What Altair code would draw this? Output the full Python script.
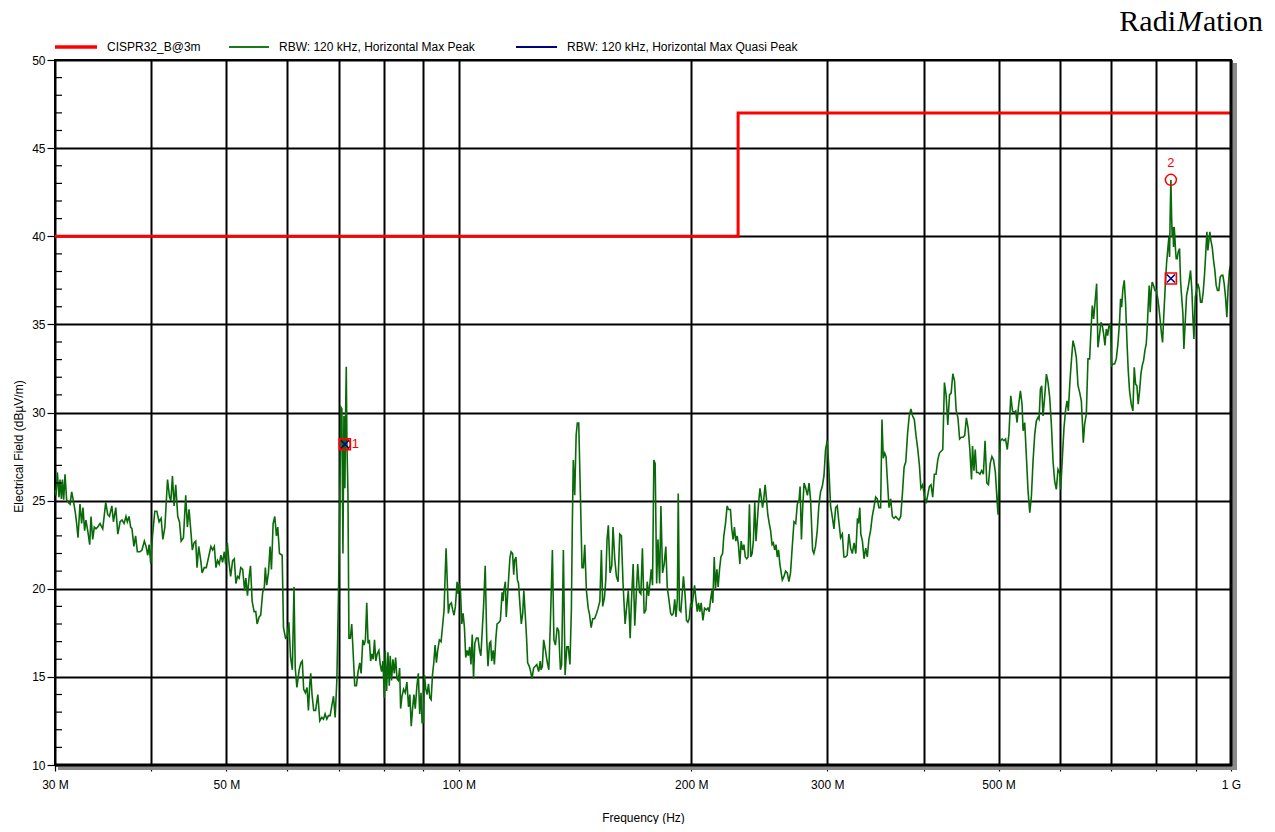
import altair as alt
import pandas as pd

# ---------------- data ----------------
LIMIT_NAME = "CISPR32_B@3m"
LIMIT_FREQ = [30, 230, 230, 1000]          # MHz
LIMIT_LEVEL = [40, 40, 47, 47]             # dBuV/m

# Max Peak trace (MHz, dBuV/m)
PEAK_30_62 = [
    (30.0, 25.6), (30.09, 25.3), (30.21, 26.6), (30.36, 25.2), (30.45, 26.2), (30.58, 25.1), (30.67, 26.2),
    (30.79, 25.05), (30.91, 26.5), (31.06, 25.05), (31.22, 24.9), (31.38, 24.8), (31.53, 25.5), (31.69, 25.0),
    (31.88, 24.3), (32.0, 23.7), (32.13, 22.9), (32.32, 24.8), (32.48, 23.7), (32.61, 24.6), (32.77, 23.3),
    (32.9, 23.9), (33.1, 23.2), (33.27, 22.5), (33.4, 24.1), (33.57, 22.8), (33.73, 23.5), (33.9, 23.4),
    (34.07, 23.5), (34.31, 23.7), (34.59, 23.4), (34.9, 24.9), (35.11, 24.2), (35.29, 24.1), (35.54, 24.7),
    (35.71, 23.8), (35.96, 24.6), (36.18, 23.1), (36.43, 23.8), (36.64, 23.9), (36.86, 23.7), (37.07, 24.1),
    (37.22, 23.8), (37.41, 24.1), (37.59, 23.5), (37.74, 23.4), (37.96, 22.4), (38.15, 23.0), (38.35, 22.1),
    (38.65, 22.1), (38.88, 22.2), (39.16, 22.7), (39.36, 22.4), (39.56, 21.9), (39.72, 22.5), (39.92, 21.4),
    (40.12, 23.0), (40.4, 24.4), (40.64, 24.4), (40.92, 23.8), (41.17, 24.0), (41.38, 22.8), (41.63, 23.5),
    (41.96, 26.2), (42.21, 25.2), (42.38, 25.0), (42.58, 26.4), (42.79, 24.7), (43.0, 25.9), (43.26, 24.1),
    (43.48, 23.8), (43.7, 22.7), (44.0, 22.9), (44.3, 25.3), (44.52, 23.5), (44.74, 24.5), (44.96, 23.4),
    (45.18, 22.2), (45.41, 22.6), (45.64, 22.7), (45.82, 21.2), (46.05, 22.4), (46.33, 21.6), (46.52, 20.9),
    (46.81, 21.2), (47.1, 21.2), (47.43, 21.8), (47.76, 22.4), (48.0, 22.2), (48.24, 22.4), (48.48, 21.2),
    (48.71, 21.6), (48.95, 21.4), (49.2, 21.9), (49.45, 21.5), (49.7, 22.1), (49.9, 21.4), (50.15, 22.6),
    (50.4, 21.5), (50.65, 20.7), (50.95, 21.6), (51.2, 21.7), (51.45, 20.3), (51.7, 20.7), (51.95, 20.6),
    (52.2, 21.2), (52.5, 21.1), (52.8, 19.9), (53.0, 20.6), (53.26, 19.6), (53.53, 20.7), (53.74, 21.3),
    (54.0, 19.3), (54.32, 18.7), (54.59, 18.7), (54.81, 18.0), (55.14, 18.4), (55.4, 18.5), (55.73, 19.8),
    (56.0, 20.1), (56.17, 21.2), (56.4, 20.2), (56.69, 20.9), (56.97, 22.4), (57.2, 21.1), (57.49, 23.7),
    (57.77, 24.1), (58.06, 23.0), (58.29, 23.5), (58.59, 22.0), (59.06, 21.9), (59.29, 17.8), (59.65, 17.2),
    (59.94, 17.3), (60.25, 18.1), (60.56, 16.1), (60.88, 15.4), (61.18, 20.1), (61.41, 15.5), (61.71, 14.4),
]
PEAK_62_128 = [
    (62.13, 15.4), (62.45, 15.8), (62.71, 15.9), (62.97, 14.3), (63.29, 14.1), (63.61, 14.4), (63.87, 13.1),
    (64.13, 14.6), (64.31, 15.2), (64.56, 14.0), (64.88, 13.1), (65.25, 13.1), (65.69, 14.0), (66.07, 12.5),
    (66.47, 12.7), (66.8, 12.6), (67.13, 12.9), (67.47, 12.6), (67.8, 12.8), (68.14, 12.8), (68.48, 13.35),
    (68.83, 13.9), (69.17, 12.7), (69.52, 14.8), (69.86, 19.7), (70.14, 25.0), (70.36, 30.3), (70.57, 30.2),
    (70.79, 22.0), (71.0, 29.8), (71.21, 25.7), (71.36, 30.0), (71.5, 32.6), (71.64, 28.3), (71.86, 25.4),
    (72.07, 17.2), (72.37, 17.2), (72.67, 18.0), (72.96, 16.5), (73.33, 14.5), (73.7, 14.5), (74.07, 15.3),
    (74.44, 15.8), (74.74, 15.2), (75.11, 17.1), (75.41, 16.8), (75.7, 17.1), (76.0, 19.2), (76.3, 16.9),
    (76.59, 17.1), (76.89, 15.9), (77.19, 16.3), (77.48, 16.0), (77.78, 17.1), (78.08, 15.9), (78.4, 16.3),
    (78.8, 16.5), (79.12, 15.7), (79.44, 15.3), (79.76, 15.9), (80.08, 13.8), (80.32, 16.5), (80.64, 14.2),
    (80.96, 16.4), (81.28, 14.5), (81.52, 16.2), (81.84, 14.8), (82.17, 16.0), (82.5, 15.2), (82.83, 16.1),
    (83.17, 14.9), (83.5, 14.8), (83.83, 15.5), (84.08, 13.2), (84.42, 13.9), (84.83, 14.3), (85.25, 14.1),
    (85.67, 14.7), (86.09, 13.3), (86.43, 14.0), (86.78, 12.2), (87.13, 13.2), (87.48, 14.0), (87.83, 13.2),
    (88.27, 14.5), (88.64, 15.2), (89.0, 12.9), (89.36, 14.1), (89.64, 12.4), (90.0, 12.4), (90.27, 15.1),
    (90.64, 14.3), (91.0, 14.0), (91.36, 14.6), (91.73, 13.8), (92.09, 13.7), (92.45, 15.1), (92.82, 15.8),
    (93.18, 16.8), (93.55, 15.8), (93.91, 16.5), (94.38, 17.1), (94.86, 17.0), (95.24, 17.8), (95.71, 18.8),
    (96.0, 20.7), (96.29, 22.3), (96.57, 20.7), (96.95, 18.6), (97.33, 19.1), (97.81, 19.2), (98.2, 18.8),
    (98.6, 18.5), (99.0, 19.0), (99.5, 20.4), (99.8, 19.7), (100.1, 20.3), (100.5, 19.9), (100.9, 18.0),
    (101.3, 18.6), (101.7, 17.8), (102.1, 16.1), (102.5, 16.5), (102.9, 16.2), (103.3, 16.7), (103.7, 15.7),
    (104.1, 17.4), (104.5, 14.9), (104.9, 16.9), (105.4, 17.2), (105.9, 17.2), (106.4, 16.5), (106.8, 16.2),
    (107.3, 17.8), (107.7, 19.1), (108.2, 21.3), (108.7, 17.1), (109.1, 15.6), (109.6, 16.9), (110.0, 17.0),
    (110.3, 15.9), (110.8, 16.5), (111.2, 15.7), (111.7, 17.2), (112.1, 18.0), (112.8, 18.1), (113.2, 18.2),
    (113.8, 19.8), (114.1, 19.3), (114.4, 19.9), (114.9, 20.4), (115.2, 18.4), (115.7, 19.7), (116.1, 20.8),
    (116.5, 21.8), (116.9, 22.1), (117.4, 22.0), (117.8, 20.8), (118.1, 21.6), (118.6, 21.8), (119.1, 20.5),
    (119.5, 20.3), (120.0, 19.1), (120.5, 18.0), (121.0, 18.6), (121.4, 19.9), (121.9, 18.6), (122.4, 17.2),
    (122.8, 15.8), (123.4, 15.6), (123.9, 15.3), (124.4, 14.9), (125.0, 15.5), (125.6, 15.6), (126.2, 15.7),
    (126.9, 15.3), (127.5, 15.9),
]
PEAK_128_261 = [
    (127.8, 15.4), (128.3, 15.6), (128.8, 17.1), (129.5, 16.5), (130.1, 15.9), (130.8, 15.4), (131.4, 18.0),
    (132.2, 22.2), (132.8, 17.1), (133.4, 16.8), (134.1, 17.8), (134.7, 17.6), (135.4, 15.4), (135.9, 15.7),
    (136.6, 22.2), (137.3, 15.1), (138.0, 16.7), (138.6, 16.7), (139.3, 15.7), (139.9, 18.8), (140.3, 23.7),
    (140.7, 27.3), (141.3, 25.3), (141.9, 28.7), (142.4, 29.4), (143.0, 29.4), (143.7, 25.4), (144.4, 21.2),
    (145.0, 21.2), (145.6, 22.5), (146.3, 19.9), (147.1, 18.9), (147.6, 18.6), (148.4, 17.8), (149.1, 18.3),
    (149.9, 18.3), (150.8, 18.6), (151.5, 18.9), (152.3, 19.3), (153.0, 22.2), (153.6, 19.0), (154.4, 19.5),
    (155.0, 20.5), (155.6, 22.8), (156.2, 23.6), (157.0, 20.9), (157.8, 21.3), (158.4, 23.5), (159.2, 21.7),
    (160.0, 20.7), (160.8, 20.4), (161.6, 23.1), (162.4, 23.0), (163.2, 20.3), (164.2, 18.0), (165.0, 19.0),
    (165.8, 19.9), (166.7, 17.2), (167.3, 19.2), (168.2, 21.4), (169.0, 17.9), (169.8, 19.8), (170.5, 21.4),
    (171.4, 19.8), (172.1, 19.7), (172.9, 22.3), (173.8, 18.6), (174.7, 18.8), (175.4, 20.4), (176.1, 19.6),
    (176.8, 20.3), (177.5, 21.1), (178.2, 20.2), (178.9, 27.3), (179.6, 27.1), (180.4, 20.3), (181.1, 22.8),
    (182.0, 20.3), (182.7, 24.7), (183.6, 20.9), (184.5, 21.4), (185.4, 22.4), (186.2, 20.1), (187.1, 19.4),
    (188.1, 18.6), (188.8, 18.5), (189.6, 18.6), (190.4, 19.4), (191.1, 18.4), (191.9, 19.4), (192.4, 25.4),
    (193.1, 18.8), (193.9, 18.7), (194.6, 19.6), (195.4, 20.7), (196.4, 19.6), (197.2, 18.2), (198.0, 18.1),
    (198.8, 18.3), (199.6, 19.1), (200.4, 19.0), (201.2, 19.6), (202.0, 20.2), (202.8, 19.4), (203.6, 18.7),
    (204.4, 19.2), (205.2, 18.7), (206.0, 19.2), (207.1, 18.2), (208.1, 18.9), (209.2, 18.8), (210.2, 18.9),
    (211.0, 18.7), (211.9, 19.4), (212.7, 19.9), (213.3, 19.2), (214.2, 21.8), (215.0, 20.0), (215.9, 21.1),
    (216.7, 20.1), (217.6, 21.1), (218.5, 21.8), (219.6, 22.0), (220.4, 23.0), (221.5, 23.7), (222.6, 24.7),
    (223.5, 24.5), (224.8, 24.5), (225.7, 23.4), (226.6, 22.8), (227.5, 23.5), (228.4, 22.7), (229.3, 23.0),
    (230.2, 22.5), (231.2, 21.4), (232.1, 22.7), (233.1, 22.2), (234.0, 22.5), (235.0, 21.8), (236.0, 21.7),
    (236.9, 21.8), (237.9, 24.8), (238.8, 21.8), (239.8, 22.0), (240.7, 22.7), (241.7, 24.9), (242.6, 22.7),
    (243.6, 23.9), (244.5, 24.9), (245.5, 25.7), (246.4, 25.2), (247.4, 24.6), (248.3, 25.1), (249.3, 25.9),
    (250.3, 25.1), (251.3, 24.2), (252.4, 23.7), (253.4, 23.3), (254.5, 22.5), (255.5, 22.6), (256.5, 22.2),
    (257.5, 22.5), (258.5, 21.8), (259.5, 22.2), (260.5, 21.4),
]
PEAK_261_397 = [
    (262.4, 20.5), (263.7, 20.7), (265.0, 21.0), (266.3, 20.9), (267.6, 20.4), (268.9, 20.9), (270.3, 22.4),
    (271.7, 23.8), (273.1, 23.7), (274.4, 24.8), (275.8, 25.0), (276.7, 25.8), (277.8, 22.8), (278.9, 24.7),
    (280.0, 26.0), (281.4, 25.7), (282.8, 25.3), (284.2, 26.0), (285.5, 25.0), (287.2, 22.2), (288.3, 22.0),
    (289.7, 22.4), (291.2, 23.3), (292.6, 24.7), (294.1, 25.5), (295.6, 25.8), (297.1, 26.4), (298.5, 27.9),
    (300.0, 28.4), (301.5, 26.8), (303.0, 24.7), (304.5, 24.1), (306.1, 23.4), (307.6, 24.6), (309.1, 24.7),
    (310.6, 23.8), (312.2, 22.9), (313.8, 23.1), (315.3, 21.8), (316.9, 21.8), (318.4, 21.9), (320.0, 23.1),
    (321.7, 22.3), (323.3, 22.0), (325.0, 22.6), (326.7, 22.0), (328.3, 24.0), (329.3, 23.7), (330.6, 24.6),
    (331.6, 23.1), (333.2, 22.7), (334.8, 21.7), (336.5, 22.3), (338.1, 21.8), (339.7, 22.8), (341.4, 23.3),
    (343.1, 24.1), (344.8, 24.6), (346.6, 25.2), (348.3, 25.1), (350.0, 24.6), (351.8, 24.6), (353.2, 29.6),
    (354.6, 27.4), (356.1, 27.7), (357.5, 27.5), (358.9, 26.2), (360.7, 24.6), (362.5, 25.1), (364.3, 24.1),
    (366.1, 24.0), (368.0, 24.1), (369.6, 24.0), (371.5, 23.9), (373.5, 24.1), (375.4, 25.4), (377.3, 26.9),
    (379.2, 27.2), (381.2, 28.8), (383.1, 29.8), (385.0, 30.2), (387.0, 29.8), (389.0, 29.6), (390.9, 28.7),
    (392.8, 28.0), (394.9, 27.0), (396.7, 25.7),
]
PEAK_397_516 = [
    (398.8, 25.9), (400.8, 25.3), (402.8, 24.85), (404.8, 25.3), (406.8, 25.8), (408.8, 25.9), (410.9, 25.2),
    (412.9, 26.5), (415.0, 26.5), (417.1, 27.3), (419.2, 27.7), (421.3, 27.8), (423.4, 27.9), (425.5, 31.7),
    (427.6, 31.0), (429.8, 29.3), (432.0, 31.0), (434.1, 31.1), (436.3, 32.2), (438.5, 31.8), (440.7, 30.1),
    (443.0, 29.7), (445.2, 28.5), (447.5, 28.6), (449.8, 28.6), (452.0, 28.7), (454.3, 29.7), (456.7, 29.1),
    (459.0, 27.9), (461.3, 26.2), (462.7, 28.1), (464.6, 26.7), (466.4, 27.9), (468.3, 26.6), (470.7, 26.6),
    (473.1, 26.5), (475.5, 26.7), (477.9, 26.5), (480.3, 28.4), (482.8, 26.0), (485.2, 25.9), (487.7, 27.1),
    (490.2, 27.5), (492.7, 27.3), (495.3, 26.6), (497.8, 25.0), (499.3, 24.2), (500.8, 26.4), (502.8, 28.4),
    (505.4, 28.5), (508.0, 28.4), (510.6, 28.5), (513.2, 27.9), (515.8, 28.8),
]
PEAK_518_1000 = [
    (518.6, 30.95), (521.2, 30.09), (523.7, 30.0), (526.3, 30.09), (528.4, 29.43), (531.0, 30.47), (533.7, 31.23),
    (536.3, 30.47), (538.0, 28.96), (540.6, 29.43), (546.0, 25.54), (548.8, 24.31), (551.5, 25.26), (554.2, 27.25),
    (557.0, 28.77), (559.7, 29.53), (562.5, 29.72), (564.2, 29.62), (566.5, 31.33), (568.7, 31.52), (570.9, 29.81),
    (573.2, 30.66), (576.7, 32.18), (579.5, 31.71), (582.4, 30.85), (585.3, 29.34), (588.2, 27.25), (591.1, 26.11),
    (594.0, 25.64), (597.0, 26.77), (600.0, 26.58), (601.8, 25.64), (604.8, 27.44), (607.8, 29.15), (610.8, 30.19),
    (613.3, 30.66), (615.7, 30.09), (618.7, 31.8), (621.8, 33.13), (624.3, 34.08), (627.4, 33.7), (630.5, 33.13),
    (633.7, 31.52), (636.8, 31.14), (640.0, 30.66), (641.9, 29.53), (643.8, 28.29), (646.3, 29.34), (649.6, 29.91),
    (652.8, 33.04), (656.0, 33.04), (659.3, 35.03), (661.3, 36.07), (663.9, 35.31), (666.5, 36.17), (669.9, 37.31),
    (672.5, 33.7), (675.9, 34.46), (678.6, 35.12), (681.3, 34.93), (684.0, 34.46), (686.7, 33.8), (689.5, 34.74),
    (692.2, 34.36), (695.0, 34.93), (697.7, 35.03), (700.5, 32.66), (703.3, 32.75), (706.8, 32.75), (710.3, 33.04),
    (713.8, 33.89), (717.4, 35.22), (719.5, 36.45), (721.7, 35.98), (724.5, 37.02), (727.4, 37.5), (730.3, 36.17),
    (733.2, 34.08), (736.1, 32.37), (739.0, 31.23), (742.7, 30.47), (746.4, 30.09), (749.4, 32.56), (752.4, 31.61),
    (755.3, 31.52), (758.3, 30.47), (761.4, 31.23), (764.4, 32.18), (767.4, 32.66), (770.5, 32.94), (773.6, 33.51),
    (776.7, 33.89), (779.0, 34.84), (781.3, 36.07), (783.6, 37.21), (785.9, 35.69), (788.3, 36.93), (790.6, 37.4),
    (793.8, 37.21), (796.9, 36.93), (800.1, 36.93), (803.3, 36.55), (806.5, 35.98), (809.7, 35.22), (812.9, 34.46),
    (815.4, 33.98), (818.6, 35.6), (821.9, 37.12), (825.1, 38.44), (828.4, 39.3), (830.9, 39.96), (832.6, 38.82),
    (834.2, 41.29), (835.9, 43.19), (837.5, 41.29), (839.2, 39.96), (840.9, 40.53), (842.5, 39.39), (844.2, 40.53),
    (845.9, 39.96), (847.6, 39.2), (849.3, 38.73), (851.8, 38.73), (854.3, 39.11), (857.8, 39.3), (860.3, 37.5),
    (862.9, 36.64), (866.4, 35.6), (868.9, 33.61), (872.4, 35.12), (875.9, 36.64), (879.4, 37.02), (882.9, 37.5),
    (886.4, 38.06), (889.9, 36.93), (892.6, 35.41), (895.3, 34.17), (898.9, 36.55), (902.4, 36.93), (906.0, 37.31),
    (909.6, 37.02), (913.2, 36.26), (916.9, 36.26), (920.5, 36.83), (924.2, 37.87), (927.9, 39.2), (930.6, 40.25),
    (933.4, 39.2), (936.2, 39.77), (938.9, 40.25), (941.7, 39.77), (945.5, 39.39), (949.3, 38.63), (953.0, 38.06),
    (956.8, 37.21), (960.6, 36.93), (964.4, 36.93), (968.3, 37.68), (972.1, 37.78), (976.0, 37.78), (979.9, 37.31),
    (983.8, 36.55), (987.7, 35.41), (991.6, 37.12), (995.5, 38.06), (1000.0, 38.44),
]

PEAK_NAME = "RBW: 120 kHz, Horizontal Max Peak"
QP_NAME = "RBW: 120 kHz, Horizontal Max Quasi Peak"

MARKER_ID = ["1", "2"]
MARKER_FREQ = [71.2, 835.9]
MARKER_PEAK = [28.2, 43.2]
MARKER_QP = [28.2, 37.6]

X_TICKS = [30, 40, 50, 60, 70, 80, 90, 100, 200, 300, 400, 500, 600, 700, 800, 900, 1000]
Y_TICKS = [10, 15, 20, 25, 30, 35, 40, 45, 50]
Y_MINOR = [11, 12, 13, 14, 16, 17, 18, 19, 21, 22, 23, 24, 26, 27, 28, 29,
           31, 32, 33, 34, 36, 37, 38, 39, 41, 42, 43, 44, 46, 47, 48, 49]

# ---------------- tables ----------------
trace = PEAK_30_62 + PEAK_62_128 + PEAK_128_261 + PEAK_261_397 + PEAK_397_516 + PEAK_518_1000
peak_df = pd.DataFrame(trace, columns=["f", "v"])
peak_df["i"] = range(len(peak_df))
limit_df = pd.DataFrame({"f": LIMIT_FREQ, "v": LIMIT_LEVEL, "i": list(range(len(LIMIT_FREQ)))})
mk_peak_df = pd.DataFrame({"f": MARKER_FREQ, "v": MARKER_PEAK, "id": MARKER_ID})
mk_qp_df = pd.DataFrame({"f": MARKER_FREQ, "v": MARKER_QP, "id": MARKER_ID})
minor_df = pd.DataFrame({"v": Y_MINOR})
dummy = pd.DataFrame({"k": [0]})

W, H = 1176, 705
FONT = "Liberation Sans"

x_scale = alt.Scale(type="log", domain=[30, 1000], nice=False)
y_scale = alt.Scale(domain=[10, 50], nice=False, zero=False)

x_axis = alt.Axis(
    values=X_TICKS,
    labelExpr="datum.value == 1000 ? '1 G' : (indexof([30, 50, 100, 200, 300, 500], datum.value) >= 0 ? datum.value + ' M' : '')",
    title="Frequency (Hz)", grid=True, gridColor="#000000", gridWidth=2,
    domain=False, ticks=True, tickColor="#000000", tickSize=6, tickWidth=1.2,
    labelPadding=8, labelFlush=False, labelOverlap=False,
    titleY=59, titleBaseline="bottom",
)
y_axis = alt.Axis(
    values=Y_TICKS, title="Electrical Field (dBµV/m)", grid=True, gridColor="#000000", gridWidth=2,
    domain=False, ticks=True, tickColor="#000000", tickSize=8, tickWidth=1.2,
    labelPadding=2, labelFlush=False, labelOverlap=False,
    titleX=-37, titleY=386, titleBaseline="middle",
)

X = alt.X("f:Q", scale=x_scale, axis=x_axis)
Y = alt.Y("v:Q", scale=y_scale, axis=y_axis)

limit_layer = alt.Chart(limit_df).mark_line(color="#ff0000", strokeWidth=3).encode(
    x=X, y=Y, order=alt.Order("i:Q"))
peak_layer = alt.Chart(peak_df).mark_line(color="#0a6a0a", strokeWidth=1.6).encode(
    x=X, y=Y, order=alt.Order("i:Q"))

minor_ticks = alt.Chart(minor_df).mark_rule(color="#000000", strokeWidth=1.2).encode(
    y=alt.Y("v:Q", scale=y_scale, axis=y_axis), x=alt.value(0), x2=alt.value(7))

# frame: thick bottom/right edges with grey drop shadow
shadow_r = alt.Chart(dummy).mark_rect(color="#8a8a8a").encode(
    x=alt.value(W + 1), x2=alt.value(W + 6), y=alt.value(3), y2=alt.value(H + 5))
shadow_b = alt.Chart(dummy).mark_rect(color="#8a8a8a").encode(
    x=alt.value(3), x2=alt.value(W + 6), y=alt.value(H + 1), y2=alt.value(H + 5))
edge_r = alt.Chart(dummy).mark_rule(color="#000", strokeWidth=3).encode(
    x=alt.value(W), y=alt.value(0), y2=alt.value(H + 1))
edge_b = alt.Chart(dummy).mark_rule(color="#000", strokeWidth=3).encode(
    y=alt.value(H), x=alt.value(0), x2=alt.value(W + 1))

qp_square = alt.Chart(mk_qp_df).mark_point(shape="square", filled=False, color="#ff0000",
                                            strokeWidth=1.6, size=121, opacity=1).encode(x=X, y=Y)
qp_cross = alt.Chart(mk_qp_df).mark_point(shape="M-1,-1L1,1M-1,1L1,-1", filled=False, color="#000080",
                                           strokeWidth=1.6, size=64, opacity=1).encode(x=X, y=Y)
pk_circle = alt.Chart(mk_peak_df).mark_point(shape="circle", filled=False, color="#ff0000",
                                             strokeWidth=1.5, size=121, opacity=1).encode(x=X, y=Y)
lab1 = alt.Chart(mk_peak_df[mk_peak_df["id"] == "1"]).mark_text(
    color="#ff0000", font=FONT, fontSize=13, align="left", baseline="middle", dx=7).encode(
    x=X, y=Y, text="id:N")
lab2 = alt.Chart(mk_peak_df[mk_peak_df["id"] == "2"]).mark_text(
    color="#ff0000", font=FONT, fontSize=13, align="center", baseline="middle", dy=-17).encode(
    x=X, y=Y, text="id:N")

LEG_Y = -13
def swatch(x0, x1, color, width):
    return alt.Chart(dummy).mark_rule(color=color, strokeWidth=width).encode(
        x=alt.value(x0), x2=alt.value(x1), y=alt.value(LEG_Y))

def leg_text(x0, txt):
    return alt.Chart(dummy).mark_text(text=txt, align="left", baseline="middle", font=FONT,
                                      fontSize=12, color="#000").encode(x=alt.value(x0), y=alt.value(LEG_Y))

legend = [
    swatch(0, 42, "#ff0000", 3.5), leg_text(52, LIMIT_NAME),
    swatch(174, 214, "#1a7a1a", 1.8), leg_text(224, PEAK_NAME),
    swatch(461, 502, "#000080", 1.8), leg_text(512, QP_NAME),
]

LOGO_X = 1122
LOGO_Y = -29
logo = [
    alt.Chart(dummy).mark_text(text="Radi", align="right", baseline="alphabetic", font="Liberation Serif",
                               fontSize=30, color="#000").encode(x=alt.value(LOGO_X - 1), y=alt.value(LOGO_Y)),
    alt.Chart(dummy).mark_text(text="M", align="left", baseline="alphabetic", font="Liberation Serif",
                               fontStyle="italic", fontSize=30, color="#000").encode(x=alt.value(LOGO_X), y=alt.value(LOGO_Y)),
    alt.Chart(dummy).mark_text(text="ation", align="left", baseline="alphabetic", font="Liberation Serif",
                               fontSize=30, color="#000").encode(x=alt.value(LOGO_X + 26), y=alt.value(LOGO_Y)),
]

chart = alt.layer(
    shadow_r, shadow_b, limit_layer, peak_layer, minor_ticks, edge_r, edge_b,
    qp_square, pk_circle, qp_cross, lab1, lab2, *legend, *logo
).properties(
    width=W, height=H,
    padding={"left": 47, "top": 52, "right": 35, "bottom": 59},
    autosize=alt.AutoSizeParams(type="none"),
).configure_view(
    stroke="#000", strokeWidth=2
).configure_axis(
    labelFont=FONT, labelFontSize=12, labelColor="#000",
    titleFont=FONT, titleFontSize=12, titleFontWeight="normal", titleColor="#000",
)

chart.save("out.html", embed_options={"renderer": "svg", "actions": False})
